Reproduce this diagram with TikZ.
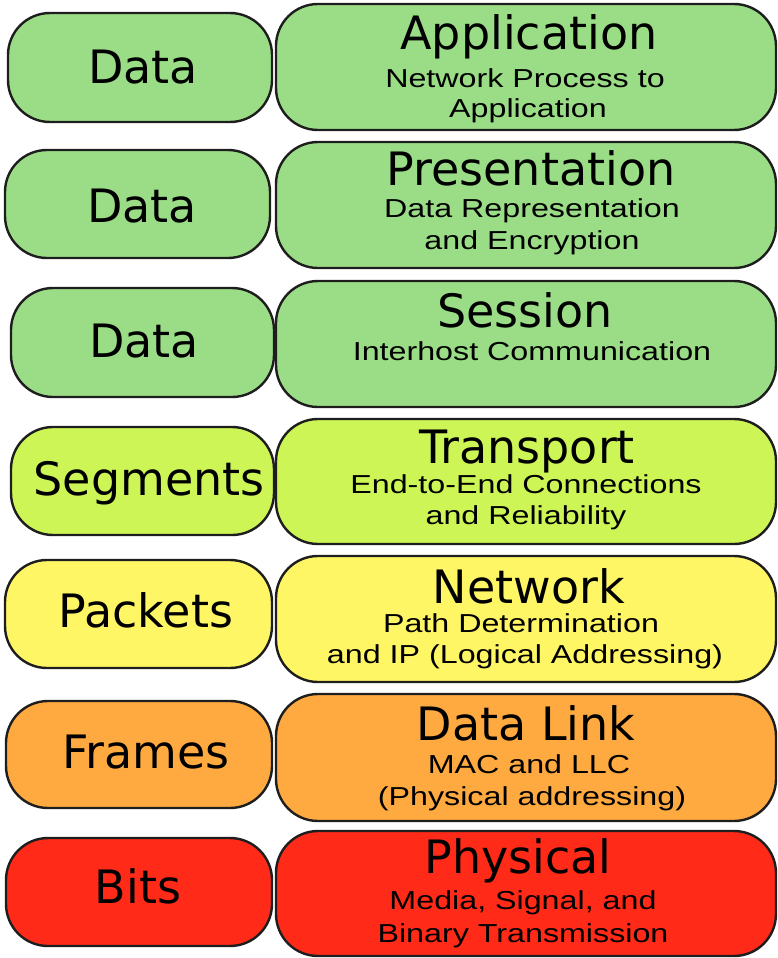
\documentclass[tikz,border=0pt]{standalone}
\usepackage{fontspec}
\setmainfont{DejaVu Sans}
\newfontfamily\subfam{Liberation Sans}
\definecolor{cgreen}{HTML}{9BDD87}
\definecolor{clime}{HTML}{CCF555}
\definecolor{cyellow}{HTML}{FFF666}
\definecolor{corange}{HTML}{FFAA40}
\definecolor{cred}{HTML}{FF2A18}
\definecolor{cline}{HTML}{1E1E1E}
\begin{document}
\begin{tikzpicture}[x=1pt,y=-1pt,
  lay/.style={draw=cline, line width=2.4pt, rounded corners=42pt, inner sep=0pt},
  big/.style={anchor=base, inner sep=0pt, font=\fontsize{46}{46}\selectfont},
  subl/.style={anchor=base, inner sep=0pt, xscale=1.24, font=\subfam\fontsize{26}{26}\selectfont}]
\useasboundingbox (0,0) rectangle (778,958);
% left boxes
\node[lay, fill=cgreen,  minimum width=264pt, minimum height=109pt] (l1) at (140,67.5) {};
\node[lay, fill=cgreen,  minimum width=265pt, minimum height=108pt] (l2) at (137.5,204) {};
\node[lay, fill=cgreen,  minimum width=263pt, minimum height=109pt] (l3) at (142.5,342.5) {};
\node[lay, fill=clime,   minimum width=263pt, minimum height=108pt] (l4) at (142.5,481) {};
\node[lay, fill=cyellow, minimum width=267pt, minimum height=108pt] (l5) at (138.5,614) {};
\node[lay, fill=corange, minimum width=266pt, minimum height=107pt] (l6) at (139,754.5) {};
\node[lay, fill=cred,    minimum width=266pt, minimum height=108pt] (l7) at (139,892) {};
% right boxes
\node[lay, fill=cgreen,  minimum width=500pt, minimum height=126pt] (r1) at (526,67) {};
\node[lay, fill=cgreen,  minimum width=500pt, minimum height=126pt] (r2) at (526,205) {};
\node[lay, fill=cgreen,  minimum width=500pt, minimum height=126pt] (r3) at (526,344) {};
\node[lay, fill=clime,   minimum width=500pt, minimum height=125pt] (r4) at (526,481.5) {};
\node[lay, fill=cyellow, minimum width=500pt, minimum height=126pt] (r5) at (526,619) {};
\node[lay, fill=corange, minimum width=500pt, minimum height=127pt] (r6) at (526,757.5) {};
\node[lay, fill=cred,    minimum width=500pt, minimum height=125pt] (r7) at (526,893.5) {};
% left labels
\node[big] (t1) at (143,83) {Data};
\node[big] (t2) at (142,222) {Data};
\node[big] (t3) at (144,357) {Data};
\node[big] (t4) at (149,495) {Segments};
\node[big] (t5) at (146,627) {Packets};
\node[big] (t6) at (146,768) {Frames};
\node[big] (t7) at (138,903) {Bits};
% layer titles
\node[big] (h1) at (529,50) {Application};
\node[big] (h2) at (531,185) {Presentation};
\node[big] (h3) at (525,327) {Session};
\node[big] (h4) at (527,463) {Transport};
\node[big] (h5) at (529,603) {Network};
\node[big] (h6) at (526,740) {Data Link};
\node[big] (h7) at (518,873) {Physical};
% subtitles
\node[subl] (s1a) at (525,88) {Network Process to};
\node[subl] (s1b) at (528,117) {Application};
\node[subl] (s2a) at (532,217) {Data Representation};
\node[subl] (s2b) at (532,249) {and Encryption};
\node[subl] (s3a) at (532,360) {Interhost Communication};
\node[subl] (s4a) at (526,493) {End-to-End Connections};
\node[subl] (s4b) at (526,524) {and Reliability};
\node[subl] (s5a) at (521,632) {Path Determination};
\node[subl] (s5b) at (525,663) {and IP (Logical Addressing)};
\node[subl] (s6a) at (529,773) {MAC and LLC};
\node[subl] (s6b) at (532,805) {(Physical addressing)};
\node[subl] (s7a) at (523,909) {Media, Signal, and};
\node[subl] (s7b) at (523,942) {Binary Transmission};
\end{tikzpicture}
\end{document}
